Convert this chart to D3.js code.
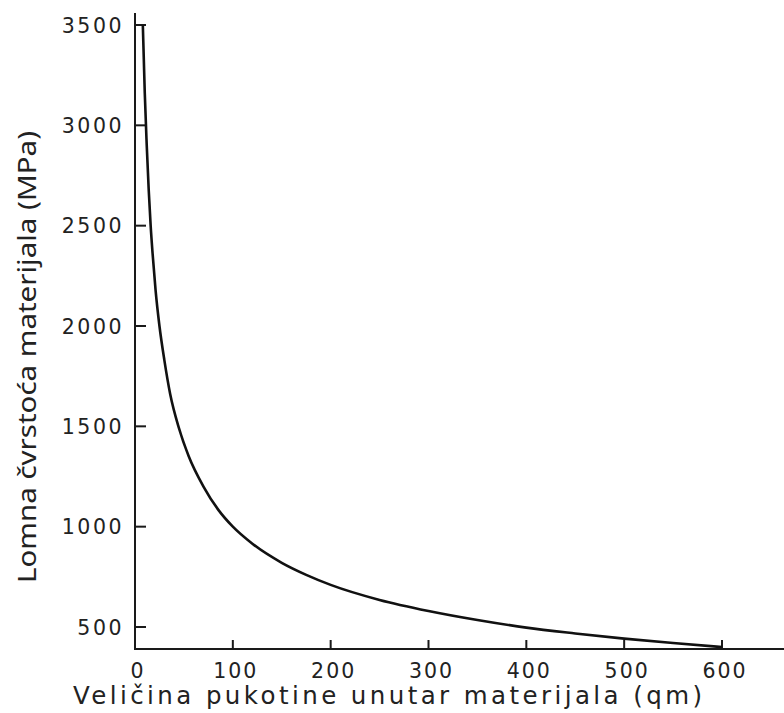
<!DOCTYPE html>
<html><head><meta charset="utf-8">
<script src="https://cdn.jsdelivr.net/npm/d3@7"></script>
<style>body{margin:0;background:#fff}</style>
</head><body>
<svg id="c" width="784" height="713"></svg>
<script>
const crackSize = [8, 9, 10, 12, 14, 16, 18, 21, 25, 30, 36, 45, 55, 70, 85, 100, 120, 150, 175, 200, 250, 300, 350, 400, 450, 500, 550, 600];
const strength  = [3500, 3330, 3160, 2900, 2680, 2500, 2360, 2180, 2000, 1830, 1660, 1490, 1350, 1200, 1085, 1000, 915, 820, 760, 710, 635, 580, 535, 497, 468, 442, 420, 400];
const xTicks = [0, 100, 200, 300, 400, 500, 600];
const yTicks = [500, 1000, 1500, 2000, 2500, 3000, 3500];
const xTitle = "Veličina pukotine unutar materijala (qm)";
const yTitle = "Lomna čvrstoća materijala (MPa)";

const svg = d3.select("#c");
const x = d3.scaleLinear().domain([0, 600]).range([135, 722]);
const y = d3.scaleLinear().domain([500, 3500]).range([627, 25]);
const axisY = 649, axisX = 135;
const ink = "#1a1a1a";

const p = d3.path();
p.moveTo(axisX, 13); p.lineTo(axisX, axisY); p.lineTo(784, axisY);
svg.append("path").attr("d", p.toString()).attr("fill", "none")
  .attr("stroke", ink).attr("stroke-width", 2);

svg.append("g").selectAll("rect").data(xTicks.slice(1)).join("rect")
  .attr("x", d => x(d) - 1).attr("y", axisY - 9).attr("width", 2).attr("height", 9).attr("fill", ink);
svg.append("g").selectAll("rect").data(yTicks).join("rect")
  .attr("x", axisX).attr("y", d => y(d) - 1).attr("width", 11).attr("height", 2).attr("fill", ink);

svg.append("g").selectAll("text").data(xTicks).join("text")
  .attr("x", d => x(d) + 3).attr("y", 678).attr("text-anchor", "middle")
  .text(d => d3.format("d")(d))
  .attr("fill", "#222").style("font-family", "DejaVu Sans").style("font-size", "20.5px")
  .style("letter-spacing", "2px");

svg.append("g").selectAll("text").data(yTicks).join("text")
  .attr("x", 124).attr("y", d => y(d) + 7.5).attr("text-anchor", "end")
  .text(d => d3.format("d")(d))
  .attr("fill", "#222").style("font-family", "DejaVu Sans").style("font-size", "20.5px")
  .style("letter-spacing", "2.5px");

const pts = crackSize.map((d, i) => [d, strength[i]]);
svg.append("path").datum(pts)
  .attr("d", d3.line().x(d => x(d[0])).y(d => y(d[1])).curve(d3.curveMonotoneX))
  .attr("fill", "none").attr("stroke", "#111").attr("stroke-width", 2.6);

svg.append("text").attr("x", 73).attr("y", 704).text(xTitle)
  .attr("textLength", 629).attr("lengthAdjust", "spacing")
  .style("font-family", "DejaVu Sans").style("font-size", "24.5px").attr("fill", "#222");

svg.append("text").attr("transform", "translate(36,583) rotate(-90)").text(yTitle)
  .attr("textLength", 452).attr("lengthAdjust", "spacingAndGlyphs")
  .style("font-family", "Noto Sans").style("font-size", "25px").attr("fill", "#222");
</script>
</body></html>
